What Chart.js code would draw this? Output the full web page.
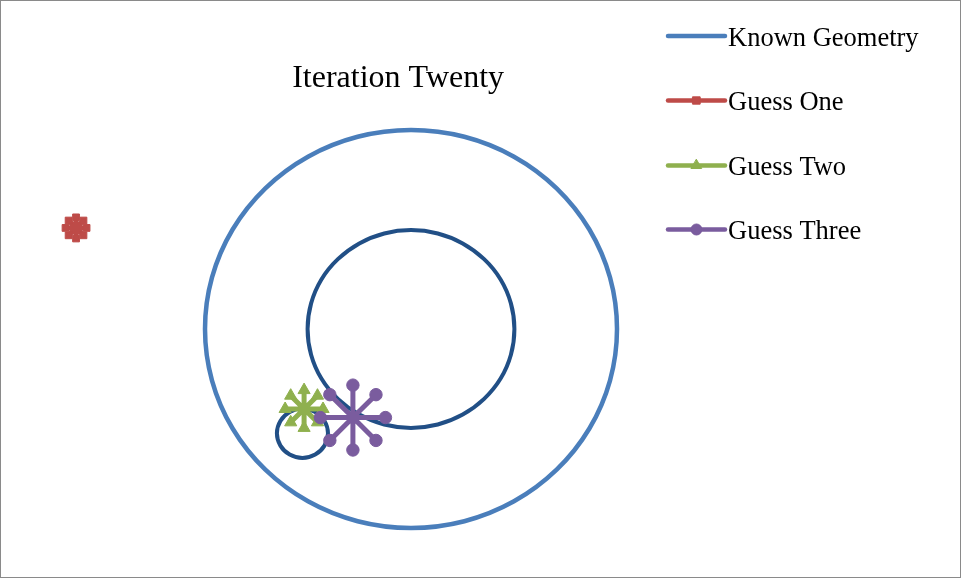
<!DOCTYPE html>
<html>
<head>
<meta charset="utf-8">
<script src="https://cdn.jsdelivr.net/npm/chart.js@4/dist/chart.umd.min.js"></script>
<style>
  html, body { margin: 0; padding: 0; background: #ffffff; }
  #wrap { width: 961px; height: 578px; position: relative; }
</style>
</head>
<body>
<div id="wrap"><canvas id="c" width="961" height="578"></canvas></div>
<script>
// ---------- data (data units) ----------
const titleText = 'Iteration Twenty';
const seriesNames = ['Known Geometry', 'Guess One', 'Guess Two', 'Guess Three'];

// Known Geometry – outer circle (one extra point at each end so the ring closes smoothly)
const outerX = [9.66, 10, 9.66, 8.66, 7.07, 5.00, 2.59, 0, -2.59, -5.00, -7.07, -8.66, -9.66, -10, -9.66, -8.66, -7.07, -5.00, -2.59, 0, 2.59, 5.00, 7.07, 8.66, 9.66, 10, 9.66];
const outerY = [-2.59, 0, 2.59, 5.00, 7.07, 8.66, 9.66, 10, 9.66, 8.66, 7.07, 5.00, 2.59, 0, -2.59, -5.00, -7.07, -8.66, -9.66, -10, -9.66, -8.66, -7.07, -5.00, -2.59, 0, 2.59];

// Known Geometry – inner circle
const innerX = [4.85, 5.02, 4.85, 4.35, 3.55, 2.51, 1.30, 0, -1.30, -2.51, -3.55, -4.35, -4.85, -5.02, -4.85, -4.35, -3.55, -2.51, -1.30, 0, 1.30, 2.51, 3.55, 4.35, 4.85, 5.02, 4.85];
const innerY = [-1.29, 0, 1.29, 2.49, 3.51, 4.30, 4.80, 4.97, 4.80, 4.30, 3.51, 2.49, 1.29, 0, -1.29, -2.49, -3.51, -4.30, -4.80, -4.97, -4.80, -4.30, -3.51, -2.49, -1.29, 0, 1.29];

// Known Geometry – small loop
const loopX = [-4.65, -5.27, -5.89, -6.34, -6.51, -6.34, -5.89, -5.27, -4.65, -4.20, -4.03, -4.20, -4.65, -5.27, -5.89];
const loopY = [-4.17, -4.00, -4.17, -4.62, -5.24, -5.86, -6.31, -6.48, -6.31, -5.86, -5.24, -4.62, -4.17, -4.00, -4.17];

// Guess One (center, spoke, center, spoke, ...)
const guessOneX = [-16.26, -16.26, -16.26, -15.90, -16.26, -15.75, -16.26, -15.90, -16.26, -16.26, -16.26, -16.62, -16.26, -16.77, -16.26, -16.62, -16.26];
const guessOneY = [5.08, 5.61, 5.08, 5.45, 5.08, 5.08, 5.08, 4.71, 5.08, 4.55, 5.08, 4.71, 5.08, 5.08, 5.08, 5.45, 5.08];

// Guess Two
const guessTwoX = [-5.19, -5.19, -5.19, -4.54, -5.19, -4.27, -5.19, -4.54, -5.19, -5.19, -5.19, -5.84, -5.19, -6.11, -5.19, -5.84, -5.19];
const guessTwoY = [-4.02, -3.07, -4.02, -3.35, -4.02, -4.02, -4.02, -4.69, -4.02, -4.97, -4.02, -4.69, -4.02, -4.02, -4.02, -3.35, -4.02];

// Guess Three
const guessThreeX = [-2.82, -2.82, -2.82, -1.70, -2.82, -1.24, -2.82, -1.70, -2.82, -2.82, -2.82, -3.94, -2.82, -4.40, -2.82, -3.94, -2.82];
const guessThreeY = [-4.45, -2.82, -4.45, -3.30, -4.45, -4.45, -4.45, -5.60, -4.45, -6.08, -4.45, -5.60, -4.45, -4.45, -4.45, -3.30, -4.45];

const xRange = [-19.5, 18.25];
const yRange = [-12, 11.75];

// ---------- helpers ----------
const pts = (xs, ys) => xs.map((x, i) => ({ x: x, y: ys[i] }));
const spokeRadius = r => (ctx => (ctx.dataIndex % 2 === 1 ? r : 0));
// hide the first and last segment (they only serve as tangent guides for a smooth closure)
const ringSegment = (color, n) => ({
  borderColor: ctx => (ctx.p0DataIndex === 0 || ctx.p1DataIndex === n - 1) ? 'rgba(0,0,0,0)' : color
});

const colors = {
  outer: '#4A7EBB',
  inner: '#214F86',
  one: '#BE4B48',
  two: '#8FB04E',
  three: '#7A5C9E'
};

const datasets = [
  { label: seriesNames[0], data: pts(outerX, outerY), borderColor: colors.outer, borderWidth: 4.5,
    tension: 0.34, pointRadius: 0, pointHoverRadius: 0, order: 6, legendMarker: null,
    segment: ringSegment(colors.outer, outerX.length) },
  { label: '', hideLegend: true, data: pts(innerX, innerY), borderColor: colors.inner, borderWidth: 4,
    tension: 0.34, pointRadius: 0, pointHoverRadius: 0, order: 5,
    segment: ringSegment(colors.inner, innerX.length) },
  { label: '', hideLegend: true, data: pts(loopX, loopY), borderColor: colors.inner, borderWidth: 4,
    tension: 0.35, pointRadius: 0, pointHoverRadius: 0, order: 5,
    segment: ringSegment(colors.inner, loopX.length) },
  { label: seriesNames[1], data: pts(guessOneX, guessOneY), borderColor: colors.one, backgroundColor: colors.one,
    borderWidth: 5, pointStyle: 'rect', pointRadius: spokeRadius(4.8), pointBorderWidth: 1, order: 3,
    legendMarker: { style: 'rect', r: 5.2 } },
  { label: seriesNames[2], data: pts(guessTwoX, guessTwoY), borderColor: colors.two, backgroundColor: colors.two,
    borderWidth: 5, pointStyle: 'triangle', pointRadius: spokeRadius(7), pointBorderWidth: 1, order: 2,
    legendMarker: { style: 'triangle', r: 6 } },
  { label: seriesNames[3], data: pts(guessThreeX, guessThreeY), borderColor: colors.three, backgroundColor: colors.three,
    borderWidth: 5, pointStyle: 'circle', pointRadius: spokeRadius(6.2), pointBorderWidth: 1, order: 1,
    legendMarker: { style: 'circle', r: 5.5 } }
];

// ---------- plugins ----------
const frame = {
  id: 'frame',
  beforeDraw(chart) {
    const c = chart.ctx;
    c.save();
    c.fillStyle = '#ffffff';
    c.fillRect(0, 0, chart.width, chart.height);
    c.strokeStyle = '#8a8a8a';
    c.lineWidth = 1;
    c.strokeRect(0.5, 0.5, chart.width - 1, chart.height - 1);
    c.restore();
  }
};

const sideLegend = {
  id: 'sideLegend',
  afterDraw(chart) {
    const c = chart.ctx;
    const lineY = [36, 100.5, 165.5, 229.5];
    const baseY = [45.5, 109.5, 174.5, 238.5];
    const x0 = 668, x1 = 725, tx = 728;
    const items = chart.data.datasets.filter(d => !d.hideLegend);
    c.save();
    items.forEach((d, i) => {
      c.strokeStyle = d.borderColor;
      c.lineWidth = 4.5;
      c.lineCap = 'round';
      c.beginPath();
      c.moveTo(x0, lineY[i]);
      c.lineTo(x1, lineY[i]);
      c.stroke();
      if (d.legendMarker) {
        c.fillStyle = d.borderColor;
        c.strokeStyle = d.borderColor;
        c.lineWidth = 1;
        Chart.helpers.drawPoint(c, { pointStyle: d.legendMarker.style, radius: d.legendMarker.r, borderWidth: 1, rotation: 0 },
          (x0 + x1) / 2, lineY[i]);
      }
      c.fillStyle = '#000000';
      c.font = '26.5px "Liberation Serif", "Times New Roman", serif';
      c.textBaseline = 'alphabetic';
      c.textAlign = 'left';
      c.fillText(d.label, tx, baseY[i]);
    });
    c.restore();
  }
};

new Chart(document.getElementById('c'), {
  type: 'scatter',
  data: { datasets: datasets },
  options: {
    responsive: false,
    animation: false,
    devicePixelRatio: 1,
    showLine: true,
    clip: false,
    layout: { padding: { left: 9.3, right: 174.05, top: 10, bottom: 10.2 } },
    elements: { line: { borderCapStyle: 'round', borderJoinStyle: 'round', fill: false } },
    scales: {
      x: { type: 'linear', min: xRange[0], max: xRange[1], display: false },
      y: { type: 'linear', min: yRange[0], max: yRange[1], display: false }
    },
    plugins: {
      legend: { display: false },
      tooltip: { enabled: false },
      title: {
        display: true,
        text: titleText,
        color: '#000000',
        font: { family: '"Liberation Serif", "Times New Roman", serif', size: 32, weight: 'normal', lineHeight: 1.0 },
        padding: { top: 52.5, bottom: 0.7 }
      }
    }
  },
  plugins: [frame, sideLegend]
});
</script>
</body>
</html>
